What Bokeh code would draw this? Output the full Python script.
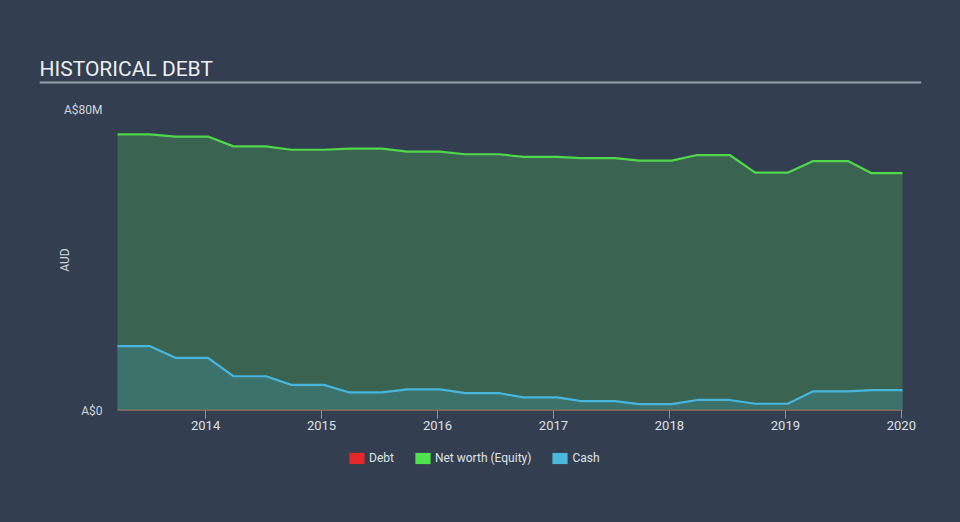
from bokeh.plotting import figure
from bokeh.layouts import column
from bokeh.embed import file_html
from bokeh.resources import INLINE
from bokeh.models import (Range1d, FixedTicker, Legend, LegendItem, Label, Span,
                          ColumnDataSource)

# ---- data (A$ millions), half-yearly reporting periods ----
period_start = [2013.24, 2013.74, 2014.24, 2014.74, 2015.24, 2015.74, 2016.24,
                2016.74, 2017.24, 2017.74, 2018.24, 2018.74, 2019.24, 2019.74]
period_end = [2013.52, 2014.02, 2014.52, 2015.02, 2015.52, 2016.02, 2016.53,
              2017.03, 2017.53, 2018.02, 2018.52, 2019.02, 2019.54, 2020.01]
equity_m = [73.4, 72.8, 70.2, 69.3, 69.6, 68.8, 68.1, 67.4, 67.1, 66.4, 67.9, 63.2, 66.3, 63.1]
cash_m = [17.1, 14.0, 9.1, 6.8, 4.8, 5.6, 4.6, 3.5, 2.5, 1.7, 2.8, 1.8, 5.1, 5.4]
debt_m = [0, 0, 0, 0, 0, 0, 0, 0, 0, 0, 0, 0, 0, 0]

year_ticks = [2014, 2015, 2016, 2017, 2018, 2019, 2020]
y_ticks = [0, 80e6]
y_tick_labels = ["A$0", "A$80M"]
series_names = ["Debt", "Net worth (Equity)", "Cash"]
series_colors = ["#e8272b", "#4fe34f", "#4cb8dc"]
title_text = "HISTORICAL DEBT"

BG = "#333f50"
FONT = "Roboto"

# ---- layout geometry (pixels) ----
W = 960
H_HEAD, H_MAIN, H_LEG = 100, 340, 82
FR_L, FR_R = 39, 921                 # frame left/right (all strips)
DATA_L, DATA_R = 117, 902            # horizontal extent of the data area
FR_T, FR_B = 109 - H_HEAD, 410 - H_HEAD   # main frame top/bottom inside main figure

px_per_yr = (DATA_R - DATA_L) / (period_end[-1] - period_start[0])
x0 = period_start[0] - (DATA_L - FR_L) / px_per_yr
x1 = period_end[-1] + (FR_R - DATA_R) / px_per_yr


def frame_fig(h, top, bottom, xr, yr):
    f = figure(width=W, height=h, output_backend="svg", toolbar_location=None,
               x_range=xr, y_range=yr,
               min_border_left=FR_L, min_border_right=W - FR_R,
               min_border_top=top, min_border_bottom=bottom,
               background_fill_color=BG, border_fill_color=BG, outline_line_color=None)
    f.grid.visible = False
    return f


# ---------------- header: title + rule ----------------
hdr = frame_fig(H_HEAD, 0, 0, Range1d(0, 1), Range1d(H_HEAD, 0))
hdr.xaxis.visible = False
hdr.yaxis.visible = False
hdr.add_layout(Label(x=0, y=68.5, text=title_text, text_font=FONT, text_font_size="21px",
                     text_color="#eceef1", text_baseline="alphabetic", text_align="left"))
hdr.add_layout(Span(location=82, dimension="width", line_color="#9aa4ae", line_width=2))

# ---------------- main chart ----------------
xs, eq, ca, de = [], [], [], []
for s, e, q, c, d in zip(period_start, period_end, equity_m, cash_m, debt_m):
    xs += [s, e]
    eq += [q * 1e6, q * 1e6]
    ca += [c * 1e6, c * 1e6]
    de += [d * 1e6, d * 1e6]
src = ColumnDataSource(data=dict(x=xs, eq=eq, ca=ca, de=de, zero=[0] * len(xs)))

p = frame_fig(H_MAIN, FR_T, H_MAIN - FR_B, Range1d(x0, x1), Range1d(0, 80e6))

p.varea(x="x", y1="zero", y2="eq", source=src, fill_color="#3b6351")
p.varea(x="x", y1="zero", y2="ca", source=src, fill_color="#3b726b")
p.line(x="x", y="eq", source=src, line_color="#4fd84a", line_width=2.2)
p.line(x="x", y="ca", source=src, line_color="#47b5dc", line_width=2.2)
p.line(x="x", y="de", source=src, line_color="#d27a6a", line_width=1.6)

xa = p.xaxis[0]
xa.ticker = FixedTicker(ticks=year_ticks)
xa.minor_tick_line_color = None
xa.axis_line_color = None
xa.major_tick_out = 8
xa.major_tick_in = 0
xa.major_tick_line_color = "#8b96a3"
xa.major_label_text_color = "#dde1e6"
xa.major_label_text_font = FONT
xa.major_label_text_font_size = "13px"
xa.major_label_standoff = 2

ya = p.yaxis[0]
ya.ticker = FixedTicker(ticks=y_ticks)
ya.major_label_overrides = {t: l for t, l in zip(y_ticks, y_tick_labels)}
ya.minor_tick_line_color = None
ya.major_tick_line_color = None
ya.axis_line_color = None
ya.major_tick_out = 0
ya.major_tick_in = 0
ya.major_label_standoff = -63
ya.major_label_text_color = "#cfd4da"
ya.major_label_text_font = FONT
ya.major_label_text_font_size = "12px"
ya.axis_label = "AUD"
ya.axis_label_text_color = "#cfd4da"
ya.axis_label_text_font = FONT
ya.axis_label_text_font_size = "12px"
ya.axis_label_text_font_style = "normal"
ya.axis_label_standoff = -11

# ---------------- legend strip ----------------
lg = frame_fig(H_LEG, 0, 0, Range1d(0, 1), Range1d(0, 1))
lg.xaxis.visible = False
lg.yaxis.visible = False
swatches = [lg.rect(x=[0], y=[0], width=0, height=0, fill_color=c, line_color=None)
            for c in series_colors]
legend = Legend(items=[LegendItem(label=n, renderers=[r]) for n, r in zip(series_names, swatches)],
                orientation="horizontal", location=(308, 57),
                glyph_width=19, glyph_height=14, label_height=14, label_standoff=3,
                spacing=19, padding=0, margin=0, border_line_color=None,
                background_fill_alpha=0, label_text_color="#dfe3e8",
                label_text_font=FONT, label_text_font_size="12px")
lg.add_layout(legend)

layout = column(hdr, p, lg, spacing=0)
html = file_html(layout, INLINE)
html = html.replace("<body>", '<body style="background-color:%s;">' % BG)
open("out.html", "w").write(html)
